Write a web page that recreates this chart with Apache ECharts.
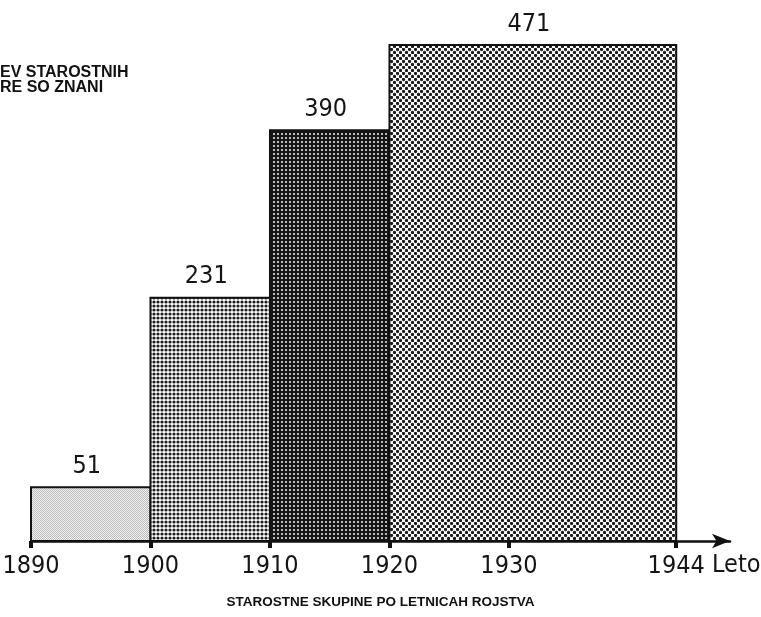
<!DOCTYPE html>
<html>
<head>
<meta charset="utf-8">
<script src="https://cdn.jsdelivr.net/npm/echarts@6/dist/echarts.min.js"></script>
<style>
  html, body { margin: 0; padding: 0; background: #fff; }
  #chart { width: 761px; height: 617px; }
</style>
</head>
<body>
<div id="chart"></div>
<script>
// age groups by year of birth
const binStarts = [1890, 1900, 1910, 1920];
const binEnds = [1900, 1910, 1920, 1944];
const counts = [51, 231, 390, 471];
const tickYears = [1890, 1900, 1910, 1920, 1930, 1944];

const numFont = "'DejaVu Sans Condensed', 'Liberation Sans', sans-serif";
const boldFont = '"Liberation Sans", Arial, sans-serif';

// small canvases used as print-like screen patterns
function makePattern(size, bg, fg, draw) {
  const c = document.createElement('canvas');
  c.width = size;
  c.height = size;
  const ctx = c.getContext('2d');
  ctx.fillStyle = bg;
  ctx.fillRect(0, 0, size, size);
  ctx.fillStyle = fg;
  draw(ctx);
  return { image: c, repeat: 'repeat' };
}

function dot(ctx, x, y, r) {
  ctx.beginPath();
  ctx.arc(x, y, r, 0, Math.PI * 2);
  ctx.fill();
}

const patterns = [
  makePattern(2, '#f0f0f0', '#bdbdbd', ctx => {
    ctx.fillRect(0, 0, 1, 1);
    ctx.fillRect(1, 1, 1, 1);
  }),
  makePattern(4, '#ffffff', '#1a1a1a', ctx => dot(ctx, 2, 2, 1.6)),
  makePattern(4, '#151515', '#f4f4f4', ctx => dot(ctx, 2, 2, 1.0)),
  makePattern(6, '#ffffff', '#1a1a1a', ctx => {
    dot(ctx, 1.5, 1.5, 1.65);
    dot(ctx, 4.5, 4.5, 1.65);
  })
];

const chart = echarts.init(document.getElementById('chart'));

chart.setOption({
  animation: false,
  backgroundColor: '#fff',
  grid: { left: 31, right: 31, top: 45, bottom: 76, outerBoundsMode: 'none' },
  xAxis: {
    type: 'value',
    min: 1890,
    max: 1948.5,
    splitLine: { show: false },
    axisLine: {
      lineStyle: { color: '#111', width: 2.5 },
      symbol: ['none', 'arrow'],
      symbolSize: [11, 18]
    },
    axisTick: {
      customValues: tickYears,
      length: 7,
      lineStyle: { color: '#111', width: 4 }
    },
    axisLabel: {
      customValues: tickYears,
      formatter: v => String(v),
      margin: 13,
      color: '#151515',
      fontFamily: numFont,
      fontSize: 25
    }
  },
  yAxis: {
    type: 'value',
    min: 0,
    max: 471,
    show: false
  },
  series: [{
    type: 'custom',
    data: binStarts.map((s, i) => [s, binEnds[i], counts[i]]),
    encode: { x: [0, 1], y: 2 },
    renderItem: (params, api) => {
      const p0 = api.coord([api.value(0), 0]);
      const p1 = api.coord([api.value(1), api.value(2)]);
      const i = params.dataIndex;
      return {
        type: 'group',
        children: [{
          type: 'rect',
          shape: { x: p0[0], y: p1[1], width: p1[0] - p0[0], height: p0[1] - p1[1] },
          style: { fill: patterns[i], stroke: '#111', lineWidth: 2 }
        }, {
          type: 'text',
          x: (p0[0] + p1[0]) / 2 - 4,
          y: p1[1] - 21,
          style: {
            text: String(api.value(2)),
            align: 'center',
            verticalAlign: 'middle',
            fill: '#151515',
            font: '25px ' + numFont
          }
        }]
      };
    }
  }],
  graphic: [
    {
      type: 'text', left: 0, top: 65,
      style: { text: 'EV STAROSTNIH', fill: '#111', font: 'bold 16px ' + boldFont }
    },
    {
      type: 'text', left: 0, top: 80,
      style: { text: 'RE SO ZNANI', fill: '#111', font: 'bold 16px ' + boldFont }
    },
    {
      type: 'text', left: 712, top: 553,
      style: { text: 'Leto', fill: '#151515', font: '25px ' + numFont }
    },
    {
      type: 'text', left: 'center', top: 595,
      style: { text: 'STAROSTNE SKUPINE PO LETNICAH ROJSTVA', fill: '#111', font: 'bold 13.5px ' + boldFont }
    }
  ]
});
</script>
</body>
</html>
